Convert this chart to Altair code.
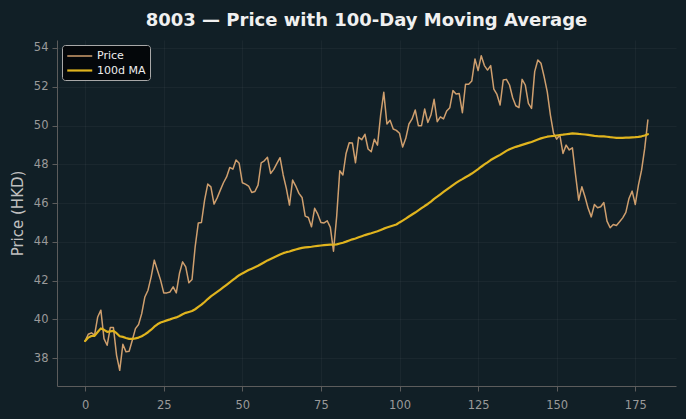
import altair as alt
import pandas as pd

# Daily closing prices for ticker 8003 (HKD), trading days 0..179
ticker = "8003"
days = list(range(180))
price = [
    38.89, 39.24, 39.31, 39.19, 40.13, 40.48, 39.01, 38.67, 39.58, 39.58,
    38.15, 37.38, 38.72, 38.33, 38.36, 38.93, 39.53, 39.74, 40.30, 41.16,
    41.51, 42.20, 43.06, 42.54, 42.03, 41.37, 41.37, 41.42, 41.68, 41.37,
    42.37, 42.97, 42.71, 41.89, 42.06, 43.75, 44.98, 45.00, 46.15, 46.98,
    46.84, 45.95, 46.27, 46.67, 47.05, 47.35, 47.84, 47.75, 48.22, 48.05,
    47.05, 46.98, 46.88, 46.55, 46.60, 46.93, 48.08, 48.18, 48.36, 47.53,
    47.74, 48.05, 48.34, 47.45, 46.76, 45.90, 47.19, 46.88, 46.50, 46.29,
    45.33, 45.26, 44.78, 45.73, 45.43, 45.00, 44.98, 45.09, 44.75, 43.52,
    45.29, 47.67, 47.45, 48.56, 49.11, 49.10, 48.08, 49.39, 49.27, 49.55,
    48.79, 48.65, 49.29, 48.99, 50.54, 51.71, 50.08, 50.27, 49.82, 49.75,
    49.60, 48.89, 49.34, 50.08, 50.34, 50.80, 49.99, 49.99, 50.85, 50.16,
    50.54, 51.35, 50.20, 50.45, 50.34, 50.75, 50.92, 51.80, 51.63, 51.65,
    50.66, 52.13, 52.13, 52.30, 53.43, 52.83, 53.60, 53.09, 52.86, 53.09,
    51.88, 51.60, 51.06, 52.35, 52.38, 52.09, 51.43, 51.02, 50.92, 52.38,
    52.09, 51.14, 50.88, 52.78, 53.38, 53.21, 52.52, 51.74, 50.54, 49.60,
    49.30, 49.51, 48.56, 48.99, 48.74, 48.85, 47.45, 46.15, 46.84, 46.33,
    45.73, 45.29, 45.93, 45.76, 45.81, 46.03, 45.07, 44.73, 44.90, 44.85,
    45.04, 45.24, 45.52, 46.24, 46.62, 45.93, 46.93, 47.70, 48.82, 50.28,
]

ma_window = 100
series_names = ["Price", "100d MA"]
series_colors = ["#cf9f6e", "#e0b41e"]
series_widths = [1.5, 2.2]

x_ticks = [0, 25, 50, 75, 100, 125, 150, 175]
y_ticks = [38, 40, 42, 44, 46, 48, 50, 52, 54]

df = pd.DataFrame({"day": days, "price": price})

# short horizontal stroke used as the legend swatch
legend = alt.Legend(
    title=None,
    orient="top-left",
    offset=5,
    symbolType="M-1,0L3,0",
    symbolSize=156,
    labelOffset=16,
)

base = (
    alt.Chart(df)
    .transform_window(
        ma="mean(price)",
        frame=[-(ma_window - 1), 0],
        sort=[alt.SortField("day")],
    )
    .transform_fold(["price", "ma"], as_=["key", "value"])
    .transform_calculate(series="datum.key == 'price' ? 'Price' : '100d MA'")
    .mark_line(strokeJoin="round", strokeCap="round")
    .encode(
        x=alt.X(
            "day:Q",
            scale=alt.Scale(domain=[-8.95, 187.95], nice=False, zero=False),
            axis=alt.Axis(values=x_ticks, title=None, labelPadding=8),
        ),
        y=alt.Y(
            "value:Q",
            scale=alt.Scale(domain=[36.57, 54.41], nice=False, zero=False),
            axis=alt.Axis(values=y_ticks, title="Price (HKD)", titlePadding=8),
        ),
        color=alt.Color(
            "series:N",
            scale=alt.Scale(domain=series_names, range=series_colors),
            legend=legend,
        ),
        strokeWidth=alt.StrokeWidth(
            "series:N",
            scale=alt.Scale(domain=series_names, range=series_widths),
            legend=legend,
        ),
    )
)

price_line = base.transform_filter("datum.key == 'price'")
ma_line = base.transform_filter("datum.key == 'ma'")

chart = (
    alt.layer(price_line, ma_line)
    .properties(
        width=619,
        height=346,
        autosize=alt.AutoSizeParams(type="none"),
        padding={"left": 57, "top": 40, "right": 10, "bottom": 33},
        background="#111f26",
        title=alt.Title(
            f"{ticker} \u2014 Price with 100-Day Moving Average",
            font="DejaVu Sans",
            fontSize=18,
            fontWeight="bold",
            color="#f0f0f0",
            anchor="middle",
            baseline="alphabetic",
            offset=15,
            dy=19,
        ),
    )
    .configure_view(stroke=None, fill="#111f26")
    .configure_axis(
        domainColor="#5c5c5c",
        tickColor="#5c5c5c",
        tickSize=5,
        labelColor="#9a9a9a",
        labelFont="DejaVu Sans",
        labelFontSize=11.5,
        labelPadding=4,
        gridColor="#ffffff",
        gridOpacity=0.04,
        titleColor="#c0c0c0",
        titleFont="DejaVu Sans",
        titleFontSize=15,
        titleFontWeight="normal",
    )
    .configure_legend(
        fillColor="#04070a",
        strokeColor="#a8a8a8",
        cornerRadius=3,
        padding=4,
        labelColor="#eeeeee",
        labelFont="DejaVu Sans",
        labelFontSize=11,
        rowPadding=2,
    )
)

chart.save("out.html", embed_options={"renderer": "svg", "actions": False})
